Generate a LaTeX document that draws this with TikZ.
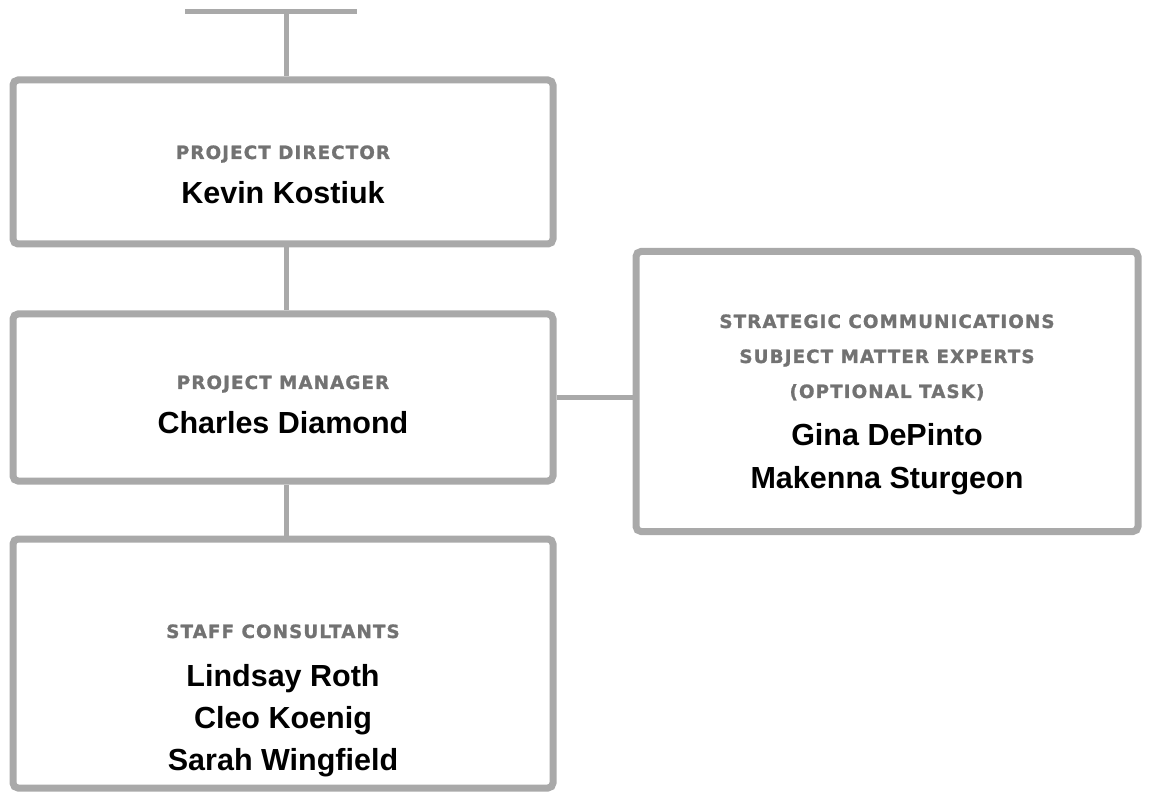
\documentclass[tikz,border=0pt]{standalone}
\usepackage{fontspec}
\setmainfont{Liberation Sans}
\newfontfamily\titlefont{DejaVu Sans}[LetterSpace=6,BoldFeatures={FakeBold=1.2}]
\definecolor{boxgray}{HTML}{A9A9A9}
\definecolor{titlegray}{HTML}{727272}
\begin{document}
\begin{tikzpicture}[x=1pt,y=-1pt,
  orgbox/.style={draw=boxgray,line width=7pt,rounded corners=5pt,fill=white,inner sep=0pt},
  conn/.style={draw=boxgray,line width=5pt},
  ttl/.style={anchor=base,inner sep=0pt,text=titlegray,font=\titlefont\bfseries\fontsize{18.3}{18.3}\selectfont},
  nm/.style={anchor=base,inner sep=0pt,text=black,font=\bfseries\fontsize{30.5}{30.5}\selectfont}]
\useasboundingbox (0,0) rectangle (1149,799);
% boxes
\node[orgbox,minimum width=540pt,minimum height=164pt] (dir) at (283,162) {};
\node[orgbox,minimum width=540pt,minimum height=167pt] (mgr) at (283,397.5) {};
\node[orgbox,minimum width=540pt,minimum height=249pt] (stf) at (283,663.5) {};
\node[orgbox,minimum width=502pt,minimum height=280pt] (sme) at (887,391.5) {};
% top T
\coordinate (tl) at (185,12);
\coordinate (tr) at (357,12);
\coordinate (tm) at (286,12);
\draw[conn] (tl) -- (tr);
\draw[conn] (tm) -- (dir.north -| tm);
\draw[conn] (dir.south -| tm) -- (mgr.north -| tm);
\draw[conn] (mgr.south -| tm) -- (stf.north -| tm);
\draw[conn] (mgr.east) -- (sme.west |- mgr.east);
% texts
\node[ttl] (t1) at (283,159) {PROJECT DIRECTOR};
\node[nm] (n1) at (283,204) {Kevin Kostiuk};
\node[ttl] (t2) at (283,389) {PROJECT MANAGER};
\node[nm] (n2) at (283,434) {Charles Diamond};
\node[ttl] (t3) at (283,638) {STAFF CONSULTANTS};
\node[nm] (n3a) at (283,686) {Lindsay Roth};
\node[nm] (n3b) at (283,728) {Cleo Koenig};
\node[nm] (n3c) at (283,770) {Sarah Wingfield};
\node[ttl] (t4a) at (887,328) {STRATEGIC COMMUNICATIONS};
\node[ttl] (t4b) at (887,363) {SUBJECT MATTER EXPERTS};
\node[ttl] (t4c) at (887,398) {(OPTIONAL TASK)};
\node[nm] (n4a) at (887,446) {Gina DePinto};
\node[nm] (n4b) at (887,488) {Makenna Sturgeon};
\end{tikzpicture}
\end{document}
